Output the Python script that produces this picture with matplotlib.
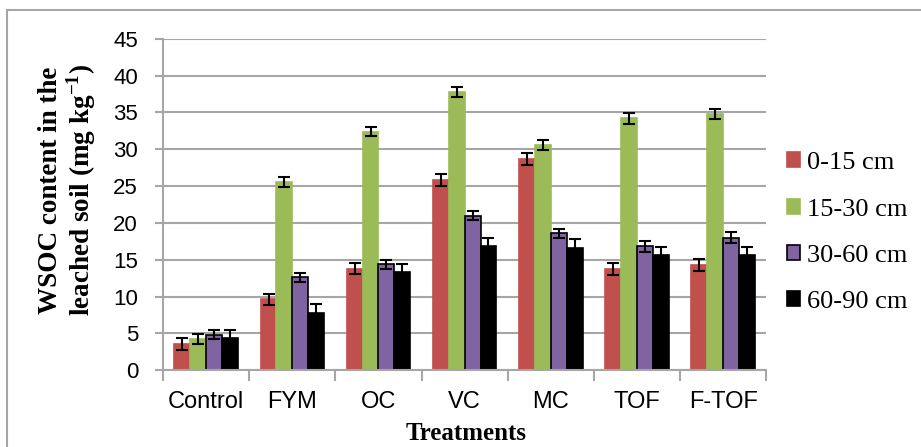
import numpy as np
import matplotlib
matplotlib.use("Agg")
import matplotlib.pyplot as plt
from matplotlib.patches import Rectangle

# Data
treatments = ["Control", "FYM", "OC", "VC", "MC", "TOF", "F-TOF"]
depths = ["0-15 cm", "15-30 cm", "30-60 cm", "60-90 cm"]
d0_15 = [3.5, 9.6, 13.8, 25.8, 28.7, 13.7, 14.3]
d15_30 = [4.2, 25.6, 32.4, 37.8, 30.6, 34.2, 34.8]
d30_60 = [4.8, 12.6, 14.4, 21.0, 18.6, 16.8, 18.0]
d60_90 = [4.3, 7.8, 13.3, 16.8, 16.6, 15.6, 15.6]
e0_15 = [0.8, 0.7, 0.8, 0.8, 0.8, 0.8, 0.8]
e15_30 = [0.7, 0.7, 0.6, 0.7, 0.7, 0.7, 0.7]
e30_60 = [0.6, 0.6, 0.6, 0.6, 0.6, 0.7, 0.7]
e60_90 = [1.1, 1.2, 1.1, 1.2, 1.2, 1.1, 1.1]

values = [d0_15, d15_30, d30_60, d60_90]
errors = [e0_15, e15_30, e30_60, e60_90]
colors = ["#C0504D", "#9BBB59", "#8064A2", "#000000"]
edges = ["#C0504D", "#9BBB59", "#000000", "#000000"]

plt.rcParams["mathtext.fontset"] = "custom"
plt.rcParams["mathtext.rm"] = "Liberation Serif"
plt.rcParams["mathtext.bf"] = "Liberation Serif:bold"

fig = plt.figure(figsize=(9.21, 4.47), dpi=100)
ax = fig.add_axes([0.177, 0.172, 0.655, 0.741])

x = np.arange(len(treatments))
w = 0.184
for i in range(4):
    pos = x + (i - 1.5) * w
    ax.bar(pos, values[i], w, color=colors[i], edgecolor=edges[i],
           linewidth=1.2, label=depths[i], zorder=2)
    ax.errorbar(pos, values[i], yerr=errors[i], fmt="none", ecolor="black",
                elinewidth=1.5, capsize=4, capthick=1.5, zorder=3)

grid_col = "#A6A6A6"
ax.set_ylim(0, 45)
ax.set_yticks(range(0, 46, 5))
ax.set_xlim(-0.5, len(treatments) - 0.5)
ax.set_xticks(np.arange(-0.5, len(treatments), 1))
ax.set_xticklabels([])
ax.set_xticks(x, minor=True)
ax.set_xticklabels(treatments, minor=True)
ax.tick_params(axis="x", which="major", length=8, width=1.5, color=grid_col)
ax.tick_params(axis="x", which="minor", length=0, pad=15, labelsize=17)
ax.tick_params(axis="y", length=6, width=1.5, color=grid_col, labelsize=16, pad=12)
for lab in ax.get_xticklabels(minor=True) + ax.get_yticklabels():
    lab.set_family("Liberation Sans")

ax.yaxis.grid(True, color=grid_col, linewidth=1.5, zorder=0)
ax.set_axisbelow(True)
for s in ["top", "right"]:
    ax.spines[s].set_visible(False)
for s in ["left", "bottom"]:
    ax.spines[s].set_color(grid_col)
    ax.spines[s].set_linewidth(1.5)

serif = "Liberation Serif"
fig.text(466 / 921, 1 - 433 / 447, "Treatments", family=serif,
         fontweight="bold", fontsize=18, ha="center", va="center")
fig.text(68 / 921, 1 - 190 / 447,
         "WSOC content in the\nleached soil (mg kg$^{\\mathbf{-1}}$)",
         family=serif, fontweight="bold", fontsize=19.5, rotation=90,
         ha="center", va="center", multialignment="center", linespacing=1.05)

leg = ax.legend(loc="center left", bbox_to_anchor=(0.995, 0.415), frameon=False,
                prop={"family": serif, "size": 19}, handlelength=0.5,
                handleheight=0.5, handletextpad=0.25, labelspacing=0.92)

# outer chart-area frame
fig.patches.append(Rectangle((0.008, -0.1), 1.1, 1.1 - 10.5 / 447,
                             transform=fig.transFigure, fill=False,
                             edgecolor="#A6A6A6", linewidth=1.5))

fig.savefig("out.png", dpi=100)
